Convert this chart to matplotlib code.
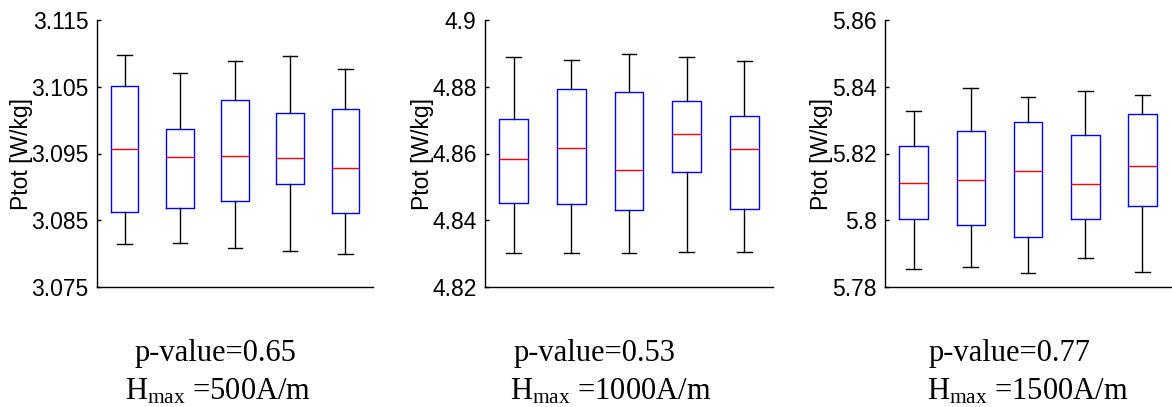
import matplotlib
matplotlib.use("Agg")
import matplotlib.pyplot as plt

plt.rcParams['font.family'] = ['Liberation Sans', 'DejaVu Sans']
plt.rcParams['mathtext.fontset'] = 'custom'
plt.rcParams['mathtext.rm'] = 'Liberation Serif'

# ---- data ----
p1_lower = [3.0814, 3.0816, 3.0809, 3.0804, 3.0800]
p1_q1    = [3.0863, 3.0869, 3.0879, 3.0904, 3.0861]
p1_med   = [3.0956, 3.0945, 3.0947, 3.0943, 3.0929]
p1_q3    = [3.1051, 3.0987, 3.1030, 3.1010, 3.1016]
p1_upper = [3.1097, 3.1070, 3.1088, 3.1096, 3.1077]

p2_lower = [4.8303, 4.8303, 4.8303, 4.8306, 4.8304]
p2_q1    = [4.8451, 4.8448, 4.8432, 4.8545, 4.8433]
p2_med   = [4.8584, 4.8617, 4.8551, 4.8658, 4.8613]
p2_q3    = [4.8704, 4.8793, 4.8785, 4.8756, 4.8713]
p2_upper = [4.8888, 4.8881, 4.8898, 4.8888, 4.8876]

p3_lower = [5.7854, 5.7861, 5.7843, 5.7888, 5.7846]
p3_q1    = [5.8005, 5.7987, 5.7949, 5.8004, 5.8043]
p3_med   = [5.8113, 5.8120, 5.8147, 5.8110, 5.8163]
p3_q3    = [5.8222, 5.8268, 5.8293, 5.8256, 5.8319]
p3_upper = [5.8327, 5.8395, 5.8368, 5.8388, 5.8375]

p1_ticks = [3.075, 3.085, 3.095, 3.105, 3.115]
p1_ticklabels = ['3.075', '3.085', '3.095', '3.105', '3.115']
p2_ticks = [4.82, 4.84, 4.86, 4.88, 4.90]
p2_ticklabels = ['4.82', '4.84', '4.86', '4.88', '4.9']
p3_ticks = [5.78, 5.80, 5.82, 5.84, 5.86]
p3_ticklabels = ['5.78', '5.8', '5.82', '5.84', '5.86']

ylabel = 'Ptot [W/kg]'
pvalues = ['p-value=0.65', 'p-value=0.53', 'p-value=0.77']
hmax_values = ['500A/m', '1000A/m', '1500A/m']

panels = [
    (p1_lower, p1_q1, p1_med, p1_q3, p1_upper, p1_ticks, p1_ticklabels),
    (p2_lower, p2_q1, p2_med, p2_q3, p2_upper, p2_ticks, p2_ticklabels),
    (p3_lower, p3_q1, p3_med, p3_q3, p3_upper, p3_ticks, p3_ticklabels),
]

W, H = 1172, 407
fig = plt.figure(figsize=(W / 100, H / 100), dpi=100)

ax_px = [(97, 276), (485, 288), (885, 286)]
ax_top, ax_bot = 20, 287

txt1_x = [135, 514, 929]
txt2_x = [125, 510, 927]

for i, (lo, q1, med, q3, hi, ticks, tlabels) in enumerate(panels):
    left, width = ax_px[i]
    ax = fig.add_axes([left / W, (H - ax_bot) / H, width / W, (ax_bot - ax_top) / H])
    stats = []
    for j in range(len(med)):
        stats.append(dict(whislo=lo[j], q1=q1[j], med=med[j], q3=q3[j],
                          whishi=hi[j], fliers=[]))
    ax.bxp(stats, positions=list(range(1, len(med) + 1)), widths=0.5,
           capwidths=0.26, showfliers=False,
           boxprops=dict(color='#0000ff', linewidth=1.0),
           medianprops=dict(color='#ff0000', linewidth=1.0),
           whiskerprops=dict(color='black', linewidth=1.0),
           capprops=dict(color='black', linewidth=1.0))
    ax.set_xlim(0.5, 5.5)
    ax.set_ylim(ticks[0], ticks[-1])
    ax.set_yticks(ticks)
    ax.set_yticklabels(tlabels, fontsize=16.5)
    ax.set_xticks([])
    ax.spines['top'].set_visible(False)
    ax.spines['right'].set_visible(False)
    ax.spines['left'].set_linewidth(1.0)
    ax.spines['bottom'].set_linewidth(1.0)
    ax.tick_params(axis='y', direction='in', length=3, width=1.0, pad=6)
    ax.set_ylabel(ylabel, fontsize=16.5, labelpad=-1)

    fig.text(txt1_x[i] / W, 1 - 361 / H, pvalues[i], ha='left', va='baseline',
             fontsize=22, family='Liberation Serif')
    fig.text(txt2_x[i] / W, 1 - 399 / H,
             r'$\mathrm{H_{max}}$ =' + hmax_values[i], ha='left', va='baseline',
             fontsize=22, family='Liberation Serif')

fig.savefig('out.png', dpi=100)
